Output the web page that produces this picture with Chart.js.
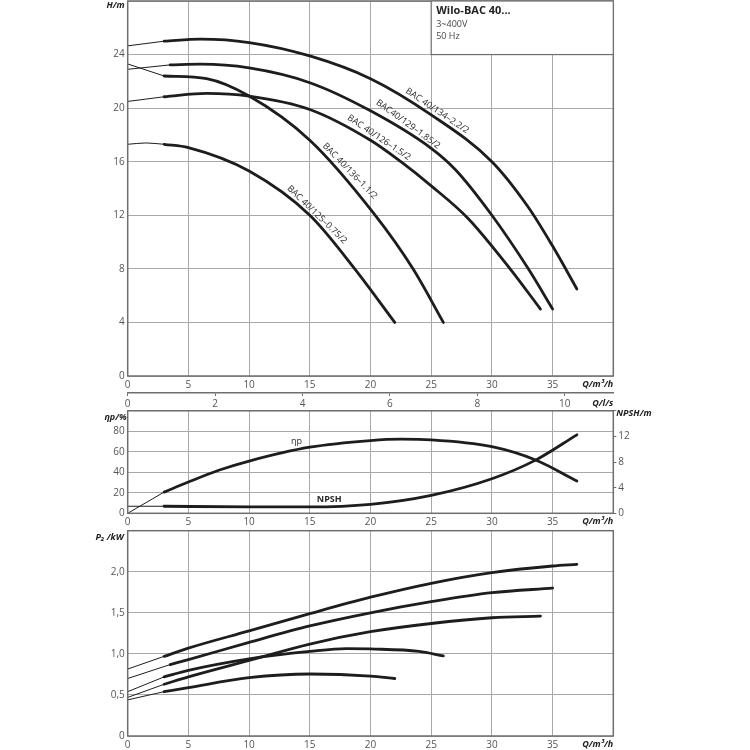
<!DOCTYPE html>
<html lang="de">
<head>
<meta charset="UTF-8">
<title>Wilo-BAC 40...</title>
<script src="https://cdn.jsdelivr.net/npm/chart.js"></script>
<style>
    * {
        box-sizing: border-box;
    }
    body {
        margin: 0;
        background: #fff;
        font-family: "Open Sans", Arial, sans-serif;
    }
    .panel {
        position: absolute;
        left: 0;
        width: 750px;
    }
    #head { top: 0; height: 410px; }
    #eff { top: 400px; height: 130px; }
    #power { top: 525px; height: 225px; }
</style>
</head>
<body>
<div class="panel" id="head"><canvas id="headChart"></canvas></div>
<div class="panel" id="eff"><canvas id="effChart"></canvas></div>
<div class="panel" id="power"><canvas id="powerChart"></canvas></div>

<script>
    // pump types, top to bottom in the H diagram
    const pumpNames = ['BAC 40/134–2.2/2', 'BAC40/129–1.85/2', 'BAC 40/126–1.5/2', 'BAC 40/136–1.1/2', 'BAC 40/125–0.75/2'];
    // the curves are drawn thin up to this flow, thick after it
    const thickFrom = [3, 3.5, 3, 3, 3];

    // H/m over Q/m³/h
    const qHead1 = [0, 3, 6, 10, 15, 20, 25, 30, 33, 35, 37];
    const head1 = [24.65, 25.0, 25.15, 24.9, 23.9, 22.2, 19.5, 16.0, 12.6, 9.7, 6.5];
    const qHead2 = [0, 3.5, 6, 10, 15, 20, 25, 27, 30, 33, 35];
    const head2 = [22.9, 23.23, 23.28, 23.0, 21.9, 19.8, 17.0, 15.4, 12.0, 8.0, 5.0];
    const qHead3 = [0, 3, 6.5, 10, 15, 20, 22.5, 25, 28, 31.5, 34];
    const head3 = [20.5, 20.85, 21.1, 20.9, 19.9, 17.6, 16.0, 14.2, 11.8, 8.0, 5.0];
    const qHead4 = [0, 3, 6.5, 10, 15, 20.3, 23.5, 26];
    const head4 = [23.3, 22.4, 22.2, 20.9, 17.6, 12.1, 8.0, 4.0];
    const qHead5 = [0, 1.5, 3, 5, 10, 15, 18.7, 22];
    const head5 = [17.3, 17.4, 17.3, 17.05, 15.3, 12.0, 8.0, 4.0];

    // efficiency ηp/% and NPSH/m over Q/m³/h
    const qEff = [0, 3, 5, 7.5, 10, 15, 20, 22.5, 25, 30, 33.6, 37];
    const efficiency = [0, 20.7, 30.5, 42, 51, 64.5, 71, 72.3, 71.7, 65, 52, 31.5];
    const qNpsh = [0, 3, 10, 15, 20, 25, 30, 33.6, 37];
    const npsh = [1.1, 1.1, 1.0, 1.0, 1.4, 2.8, 5.4, 8.3, 12.25];

    // P2/kW over Q/m³/h
    const qPower1 = [0, 3, 5, 10, 15, 20, 25, 30, 35, 37];
    const power1 = [0.815, 0.97, 1.07, 1.28, 1.49, 1.69, 1.86, 1.99, 2.07, 2.09];
    const qPower2 = [0, 3.5, 5, 10, 15, 20, 25, 30, 35];
    const power2 = [0.70, 0.87, 0.93, 1.14, 1.34, 1.50, 1.635, 1.745, 1.80];
    const qPower3 = [0, 3, 5, 10, 15, 20, 25, 30, 34];
    const power3 = [0.47, 0.63, 0.72, 0.92, 1.12, 1.27, 1.37, 1.44, 1.46];
    const qPower4 = [0, 3, 5, 10, 15, 18, 20, 24, 26];
    const power4 = [0.54, 0.72, 0.80, 0.94, 1.03, 1.065, 1.06, 1.03, 0.975];
    const qPower5 = [0, 3, 5, 10, 15, 20, 22];
    const power5 = [0.44, 0.54, 0.59, 0.71, 0.755, 0.73, 0.70];

    // tick labels of the second flow axis, Q/l/s
    const litreTicks = [0, 2, 4, 6, 8, 10];
    const m3hPerLitre = 3.6;

    const ink = '#1d1d1d';
    const gridGrey = '#a8a8a8';
    const frameGrey = '#6e6e6e';
    const tickGrey = '#555';
    const captionFont = 'italic bold 9px "Open Sans", sans-serif';
    const tickFont = {family: '"Open Sans", sans-serif', size: 10};

    Chart.defaults.font.family = '"Open Sans", sans-serif';
    Chart.defaults.animation = false;

    function curve(q, values, from, axis) {
        const pts = q.map((x, i) => ({x: x, y: values[i]}));
        const base = {
            borderColor: ink,
            pointRadius: 0,
            fill: false,
            cubicInterpolationMode: 'monotone',
            borderCapStyle: 'round'
        };
        if (axis) base.yAxisID = axis;
        return [
            Object.assign({}, base, {data: pts.filter(p => p.x <= from), borderWidth: 1}),
            Object.assign({}, base, {data: pts.filter(p => p.x >= from), borderWidth: 2.8})
        ];
    }

    function flowAxis(height) {
        return {
            type: 'linear', min: 0, max: 40,
            ticks: {stepSize: 5, padding: 3, color: tickGrey, font: tickFont, maxRotation: 0,
                callback: v => v === 40 ? '' : v},
            grid: {color: gridGrey, drawTicks: false},
            border: {display: false},
            afterFit: s => { s.height = height; s.paddingLeft = 0; s.paddingRight = 0; }
        };
    }

    function valueAxis(max, step, format, width) {
        return {
            type: 'linear', position: 'left', min: 0, max: max,
            ticks: {stepSize: step, padding: 3, color: tickGrey, font: tickFont,
                callback: v => v === max ? '' : format(v)},
            grid: {color: gridGrey, drawTicks: false},
            border: {display: false},
            afterFit: s => { s.width = width; s.paddingTop = 0; s.paddingBottom = 0; }
        };
    }

    // dark frame round the plot area
    const frame = {
        id: 'frame',
        afterDraw(chart) {
            const {ctx, chartArea: a} = chart;
            ctx.save();
            ctx.strokeStyle = frameGrey;
            ctx.lineWidth = 1.5;
            ctx.strokeRect(a.left, a.top, a.right - a.left, a.bottom - a.top);
            ctx.restore();
        }
    };

    // axis captions, placed relative to the plot area
    function captions(items) {
        return {
            id: 'captions',
            afterDraw(chart) {
                const {ctx, chartArea: a} = chart;
                ctx.save();
                items.forEach(it => {
                    ctx.font = it.font || captionFont;
                    ctx.fillStyle = '#222';
                    ctx.textAlign = it.align;
                    ctx.textBaseline = 'middle';
                    const p = it.at(a);
                    ctx.fillText(it.text, p[0], p[1]);
                });
                ctx.restore();
            }
        };
    }

    // texts that sit on the curves, anchored in data units
    function curveLabels(items) {
        return {
            id: 'curveLabels',
            afterDatasetsDraw(chart) {
                const ctx = chart.ctx;
                ctx.save();
                items.forEach(it => {
                    const x = chart.scales.x.getPixelForValue(it.q);
                    const y = chart.scales[it.axis || 'y'].getPixelForValue(it.v);
                    ctx.save();
                    ctx.translate(x, y);
                    ctx.rotate((it.angle || 0) * Math.PI / 180);
                    ctx.font = it.font || '9px "Open Sans", sans-serif';
                    ctx.fillStyle = '#2a2a2a';
                    ctx.textAlign = 'center';
                    ctx.textBaseline = 'middle';
                    ctx.fillText(it.text, 0, 0);
                    ctx.restore();
                });
                ctx.restore();
            }
        };
    }

    // type box in the top right corner of the H diagram
    const infoBox = {
        id: 'infoBox',
        afterDraw(chart) {
            const {ctx} = chart;
            const x = chart.scales.x, y = chart.scales.y;
            const l = x.getPixelForValue(25), r = x.getPixelForValue(40);
            const t = y.getPixelForValue(28), b = y.getPixelForValue(24);
            ctx.save();
            ctx.fillStyle = '#fff';
            ctx.fillRect(l, t, r - l, b - t);
            ctx.strokeStyle = frameGrey;
            ctx.lineWidth = 1.2;
            ctx.strokeRect(l, t, r - l, b - t);
            ctx.fillStyle = '#222';
            ctx.textAlign = 'left';
            ctx.textBaseline = 'middle';
            ctx.font = 'bold 11px "Open Sans", sans-serif';
            ctx.fillText('Wilo-BAC 40...', l + 5, t + 10);
            ctx.fillStyle = '#444';
            ctx.font = '9px "Open Sans", sans-serif';
            ctx.fillText('3~400V', l + 5, t + 23);
            ctx.fillText('50 Hz', l + 5, t + 35);
            ctx.restore();
        }
    };

    // ---- H diagram
    const headSets = [].concat(
        curve(qHead1, head1, thickFrom[0]),
        curve(qHead2, head2, thickFrom[1]),
        curve(qHead3, head3, thickFrom[2]),
        curve(qHead4, head4, thickFrom[3]),
        curve(qHead5, head5, thickFrom[4])
    );

    const litreAxis = {
        type: 'linear', position: 'bottom', weight: 1,
        min: 0, max: 40 / m3hPerLitre,
        afterBuildTicks: s => { s.ticks = litreTicks.map(v => ({value: v})); },
        ticks: {padding: 2, color: tickGrey, font: tickFont, maxRotation: 0, autoSkip: false},
        grid: {display: true, drawOnChartArea: false, drawTicks: true, tickLength: 3, color: frameGrey},
        border: {display: true, color: frameGrey, width: 1.5},
        afterFit: s => { s.height = 17; s.paddingLeft = 0; s.paddingRight = 0; }
    };

    new Chart(document.getElementById('headChart'), {
        type: 'line',
        data: {datasets: headSets},
        options: {
            responsive: true,
            maintainAspectRatio: false,
            layout: {padding: {top: 1, right: 136.7, left: 0, bottom: 0}},
            plugins: {legend: {display: false}, tooltip: {enabled: false}},
            scales: {
                x: Object.assign(flowAxis(17), {weight: 0}),
                xl: litreAxis,
                y: valueAxis(28, 4, v => v, 127.7)
            }
        },
        plugins: [
            curveLabels([
                {text: pumpNames[0], q: 25.5, v: 19.8, angle: 34},
                {text: pumpNames[1], q: 23.1, v: 18.8, angle: 36},
                {text: pumpNames[2], q: 20.7, v: 17.8, angle: 34},
                {text: pumpNames[3], q: 18.3, v: 15.3, angle: 46},
                {text: pumpNames[4], q: 15.6, v: 12.05, angle: 44}
            ]),
            frame,
            infoBox,
            captions([
                {text: 'H/m', align: 'right', at: a => [a.left - 3, a.top + 4.5]},
                {text: 'Q/m³/h', align: 'right', at: a => [a.right, a.bottom + 8.5]},
                {text: 'Q/l/s', align: 'right', at: a => [a.right, a.bottom + 27]}
            ])
        ]
    });

    // ---- efficiency and NPSH
    const effSets = [].concat(
        curve(qEff, efficiency, 3, 'y'),
        curve(qNpsh, npsh, 3, 'y2')
    );

    new Chart(document.getElementById('effChart'), {
        type: 'line',
        data: {datasets: effSets},
        options: {
            responsive: true,
            maintainAspectRatio: false,
            layout: {padding: {top: 10.8, right: 0, left: 0, bottom: 0}},
            plugins: {legend: {display: false}, tooltip: {enabled: false}},
            scales: {
                x: flowAxis(16.7),
                y: valueAxis(100, 20, v => v, 127.7),
                y2: {
                    type: 'linear', position: 'right', min: 0, max: 16,
                    ticks: {stepSize: 4, padding: 2, color: tickGrey, font: tickFont,
                        callback: v => v === 16 ? '' : v},
                    grid: {drawOnChartArea: false, drawTicks: true, tickLength: 3, color: frameGrey},
                    border: {display: false},
                    afterFit: s => { s.width = 136.7; s.paddingTop = 0; s.paddingBottom = 0; }
                }
            }
        },
        plugins: [
            curveLabels([
                {text: 'ηp', q: 13.9, v: 70},
                {text: 'NPSH', q: 16.6, v: 2.1, axis: 'y2', font: 'bold 9px "Open Sans", sans-serif'}
            ]),
            frame,
            captions([
                {text: 'ηp/%', align: 'right', at: a => [a.left - 1, a.top + 6.5]},
                {text: 'NPSH/m', align: 'left', at: a => [a.right + 3, a.top + 2.5]},
                {text: 'Q/m³/h', align: 'right', at: a => [a.right, a.bottom + 8.5]}
            ])
        ]
    });

    // ---- power
    const powerSets = [].concat(
        curve(qPower1, power1, thickFrom[0]),
        curve(qPower2, power2, thickFrom[1]),
        curve(qPower3, power3, thickFrom[2]),
        curve(qPower4, power4, thickFrom[3]),
        curve(qPower5, power5, thickFrom[4])
    );

    new Chart(document.getElementById('powerChart'), {
        type: 'line',
        data: {datasets: powerSets},
        options: {
            responsive: true,
            maintainAspectRatio: false,
            layout: {padding: {top: 5.7, right: 136.7, left: 0, bottom: 0}},
            plugins: {legend: {display: false}, tooltip: {enabled: false}},
            scales: {
                x: flowAxis(14),
                y: valueAxis(2.5, 0.5, v => v === 0 ? '0' : v.toFixed(1).replace('.', ','), 127.7)
            }
        },
        plugins: [
            frame,
            captions([
                {text: 'P₂ /kW', align: 'right', at: a => [a.left - 4, a.top + 6.6]},
                {text: 'Q/m³/h', align: 'right', at: a => [a.right, a.bottom + 8]}
            ])
        ]
    });
</script>
</body>
</html>
